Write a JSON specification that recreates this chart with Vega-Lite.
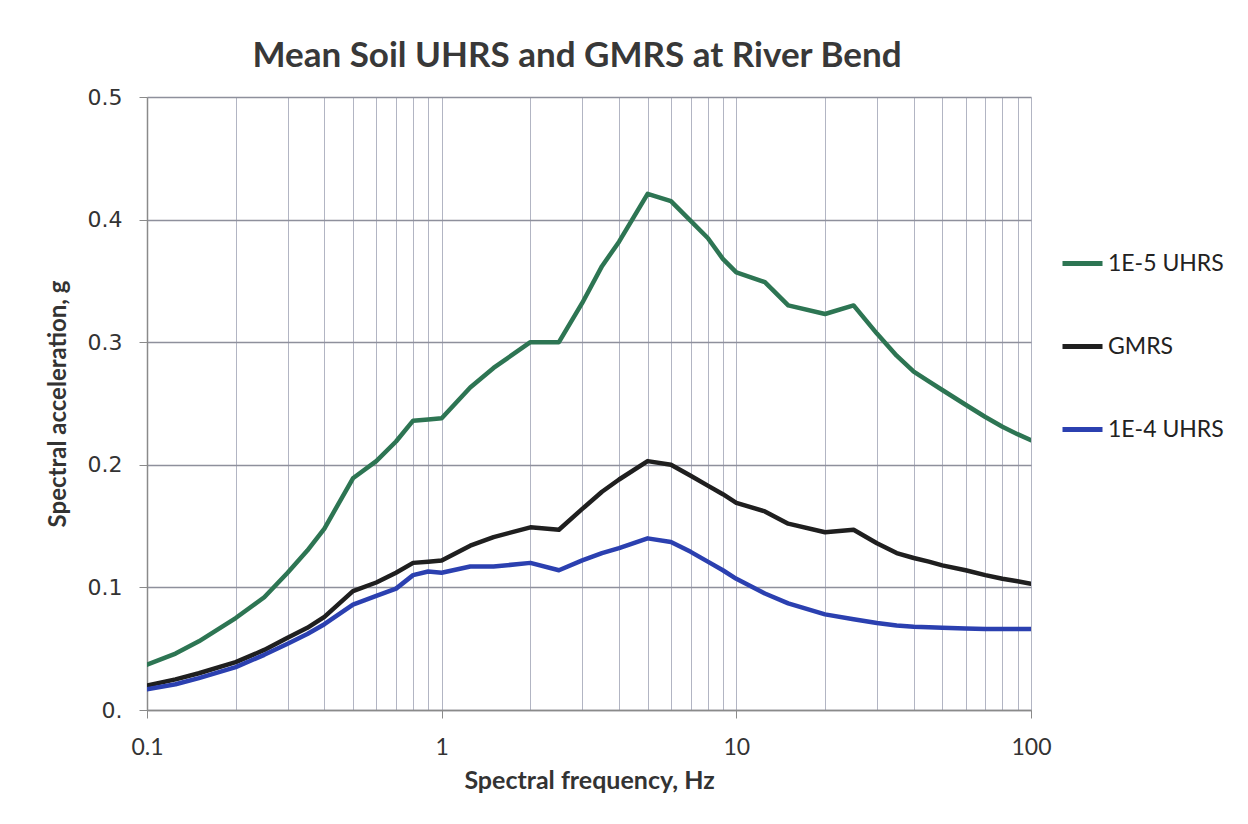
{
  "$schema": "https://vega.github.io/schema/vega-lite/v6.json",
  "autosize": {"type": "none"},
  "width": 884,
  "height": 613,
  "padding": {"left": 147, "top": 97, "right": 217, "bottom": 114},
  "background": "#ffffff",
  "title": {
    "text": "Mean Soil UHRS and GMRS at River Bend",
    "font": "Lato",
    "fontSize": 35,
    "fontWeight": "bold",
    "color": "#383838",
    "anchor": "middle",
    "baseline": "alphabetic",
    "dx": -12,
    "dy": 47,
    "offset": 31
  },
  "data": {
    "values": [
      {"f": 0.1, "u5": 0.037, "gmrs": 0.020, "u4": 0.017},
      {"f": 0.125, "u5": 0.046, "gmrs": 0.025, "u4": 0.021},
      {"f": 0.15, "u5": 0.056, "gmrs": 0.030, "u4": 0.026},
      {"f": 0.2, "u5": 0.075, "gmrs": 0.039, "u4": 0.035},
      {"f": 0.25, "u5": 0.092, "gmrs": 0.049, "u4": 0.045},
      {"f": 0.3, "u5": 0.112, "gmrs": 0.059, "u4": 0.054},
      {"f": 0.35, "u5": 0.130, "gmrs": 0.067, "u4": 0.062},
      {"f": 0.4, "u5": 0.148, "gmrs": 0.076, "u4": 0.070},
      {"f": 0.5, "u5": 0.189, "gmrs": 0.097, "u4": 0.086},
      {"f": 0.6, "u5": 0.203, "gmrs": 0.104, "u4": 0.093},
      {"f": 0.7, "u5": 0.219, "gmrs": 0.112, "u4": 0.099},
      {"f": 0.8, "u5": 0.236, "gmrs": 0.120, "u4": 0.110},
      {"f": 0.9, "u5": 0.237, "gmrs": 0.121, "u4": 0.113},
      {"f": 1, "u5": 0.238, "gmrs": 0.122, "u4": 0.112},
      {"f": 1.25, "u5": 0.263, "gmrs": 0.134, "u4": 0.117},
      {"f": 1.5, "u5": 0.279, "gmrs": 0.141, "u4": 0.117},
      {"f": 2, "u5": 0.300, "gmrs": 0.149, "u4": 0.120},
      {"f": 2.5, "u5": 0.300, "gmrs": 0.147, "u4": 0.114},
      {"f": 3, "u5": 0.332, "gmrs": 0.164, "u4": 0.122},
      {"f": 3.5, "u5": 0.362, "gmrs": 0.178, "u4": 0.128},
      {"f": 4, "u5": 0.382, "gmrs": 0.188, "u4": 0.132},
      {"f": 5, "u5": 0.421, "gmrs": 0.203, "u4": 0.140},
      {"f": 6, "u5": 0.415, "gmrs": 0.200, "u4": 0.137},
      {"f": 7, "u5": 0.399, "gmrs": 0.191, "u4": 0.129},
      {"f": 8, "u5": 0.385, "gmrs": 0.183, "u4": 0.121},
      {"f": 9, "u5": 0.368, "gmrs": 0.176, "u4": 0.114},
      {"f": 10, "u5": 0.357, "gmrs": 0.169, "u4": 0.107},
      {"f": 12.5, "u5": 0.349, "gmrs": 0.162, "u4": 0.095},
      {"f": 15, "u5": 0.330, "gmrs": 0.152, "u4": 0.087},
      {"f": 20, "u5": 0.323, "gmrs": 0.145, "u4": 0.078},
      {"f": 25, "u5": 0.330, "gmrs": 0.147, "u4": 0.074},
      {"f": 30, "u5": 0.307, "gmrs": 0.136, "u4": 0.071},
      {"f": 35, "u5": 0.289, "gmrs": 0.128, "u4": 0.069},
      {"f": 40, "u5": 0.276, "gmrs": 0.124, "u4": 0.068},
      {"f": 45, "u5": 0.268, "gmrs": 0.121, "u4": 0.0675},
      {"f": 50, "u5": 0.261, "gmrs": 0.118, "u4": 0.067},
      {"f": 60, "u5": 0.249, "gmrs": 0.114, "u4": 0.0665},
      {"f": 70, "u5": 0.239, "gmrs": 0.110, "u4": 0.066},
      {"f": 80, "u5": 0.231, "gmrs": 0.107, "u4": 0.066},
      {"f": 90, "u5": 0.225, "gmrs": 0.105, "u4": 0.066},
      {"f": 100, "u5": 0.220, "gmrs": 0.103, "u4": 0.066}
    ]
  },
  "transform": [
    {"fold": ["u5", "gmrs", "u4"], "as": ["key", "sa"]},
    {"lookup": "key", "from": {"data": {"values": [
      {"key": "u5", "series": "1E-5 UHRS"},
      {"key": "gmrs", "series": "GMRS"},
      {"key": "u4", "series": "1E-4 UHRS"}
    ]}, "key": "key", "fields": ["series"]}}
  ],
  "mark": {"type": "line", "strokeWidth": 4.5, "strokeJoin": "round", "strokeCap": "round", "clip": true},
  "encoding": {
    "x": {
      "field": "f",
      "type": "quantitative",
      "scale": {"type": "log", "domain": [0.1, 100], "nice": false},
      "axis": {
        "title": "Spectral frequency, Hz",
        "values": [0.1, 0.2, 0.3, 0.4, 0.5, 0.6, 0.7, 0.8, 0.9, 1, 2, 3, 4, 5, 6, 7, 8, 9, 10, 20, 30, 40, 50, 60, 70, 80, 90, 100],
        "format": "~g",
        "labelExpr": "indexof([0.1, 1, 10, 100], datum.value) >= 0 ? datum.label : ''",
        "labelOverlap": false,
        "labelFlush": false,
        "labelFont": "Lato",
        "labelFontSize": 23,
        "labelColor": "#333333",
        "labelPadding": 18,
        "tickSize": 8,
        "tickColor": "#8a8a8a",
        "tickOpacity": {"condition": {"test": "indexof([0.1, 1, 10, 100], datum.value) >= 0", "value": 1}, "value": 0},
        "domainColor": "#8a8a8a",
        "domainWidth": 1.5,
        "grid": true,
        "gridColor": "#b2b5c3",
        "gridWidth": 1,
        "titleFont": "Lato",
        "titleFontSize": 25,
        "titleFontWeight": "bold",
        "titleColor": "#333333",
        "titlePadding": 9
      }
    },
    "y": {
      "field": "sa",
      "type": "quantitative",
      "scale": {"domain": [0, 0.5], "nice": false, "zero": true},
      "axis": {
        "title": "Spectral acceleration, g",
        "values": [0, 0.1, 0.2, 0.3, 0.4, 0.5],
        "labelExpr": "datum.value == 0 ? '0.' : format(datum.value, '.1f')",
        "labelFont": "DejaVu Sans",
        "labelFontSize": 22,
        "labelColor": "#333333",
        "labelPadding": 17,
        "tickSize": 8,
        "tickColor": "#8a8a8a",
        "domainColor": "#8a8a8a",
        "domainWidth": 1.5,
        "grid": true,
        "gridColor": "#8e909c",
        "gridWidth": 1.4,
        "titleFont": "Lato",
        "titleFontSize": 24,
        "titleFontWeight": "bold",
        "titleColor": "#333333",
        "titlePadding": 17
      }
    },
    "color": {
      "field": "series",
      "type": "nominal",
      "scale": {
        "domain": ["1E-5 UHRS", "GMRS", "1E-4 UHRS"],
        "range": ["#2d7553", "#1f1f1f", "#2b40b0"]
      },
      "legend": {
        "title": null,
        "orient": "none",
        "legendX": 913,
        "legendY": 144,
        "symbolType": "stroke",
        "symbolSize": 1600,
        "symbolStrokeWidth": 5,
        "labelFont": "Lato",
        "labelFontSize": 23,
        "labelColor": "#222222",
        "labelOffset": 3,
        "rowPadding": 48
      }
    }
  },
  "config": {
    "view": {"stroke": null}
  }
}
